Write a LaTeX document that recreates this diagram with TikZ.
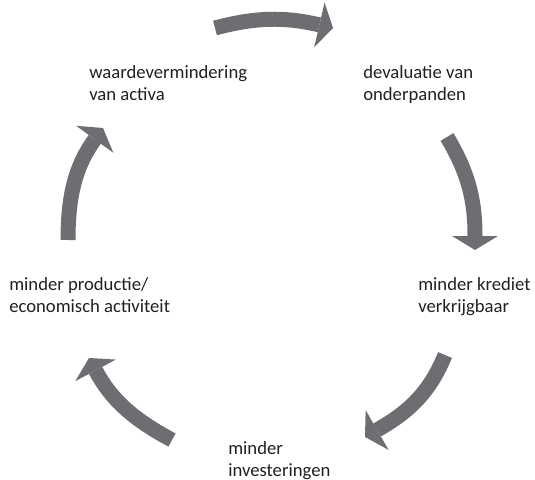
\documentclass[tikz,border=0pt]{standalone}
\usepackage{fontspec}
\setmainfont{Carlito}
\usetikzlibrary{arrows.meta}
\definecolor{arrowgray}{HTML}{6D6E71}
\definecolor{inkgray}{HTML}{231F20}
\tikzset{
  label/.style={anchor=north west, inner sep=0pt, align=left, text=inkgray, font=\fontsize{14}{16.5}\selectfont},
  cycle/.style={draw=arrowgray, line width=11.25pt, -{Triangle[width=34.5pt, length=10.5pt, line width=0pt]}}
}

\begin{document}
\begin{tikzpicture}[x=0.75pt, y=0.75pt]
  \useasboundingbox (0,0) rectangle (535,479);
  % labels round the cycle
  \node[label] (waarde) at (89,414) {waardevermindering\\van activa};
  \node[label] (devaluatie) at (363,414) {devaluatie van\\onderpanden};
  \node[label] (krediet) at (418,202) {minder krediet\\verkrijgbaar};
  \node[label] (investering) at (228,38) {minder\\investeringen};
  \node[label] (productie) at (9,202) {minder productie/\\economisch activiteit};
  % arrow ends
  \coordinate (s1) at (215,451); \coordinate (e1) at (333,451);
  \coordinate (s2) at (447,342); \coordinate (e2) at (475,229);
  \coordinate (s3) at (445,124); \coordinate (e3) at (365,42);
  \coordinate (s4) at (172,39);  \coordinate (e4) at (89,121);
  \coordinate (s5) at (68,239);  \coordinate (e5) at (103,351);
  \draw[cycle] (s1) to[out=15, in=167] (e1);
  \draw[cycle] (s2) to[out=-59, in=90] (e2);
  \draw[cycle] (s3) to[out=-112, in=30] (e3);
  \draw[cycle] (s4) to[out=152, in=-62] (e4);
  \draw[cycle] (s5) to[out=90, in=-126] (e5);
\end{tikzpicture}
\end{document}
